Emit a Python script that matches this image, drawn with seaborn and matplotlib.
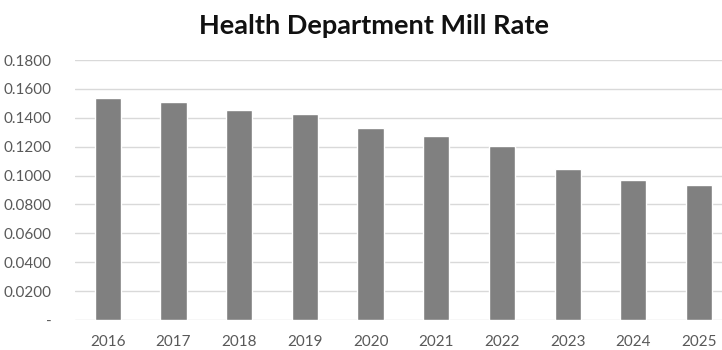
import numpy as np
import pandas as pd
import seaborn as sns
import matplotlib.pyplot as plt
from matplotlib.ticker import FuncFormatter

# values
years = ["2016", "2017", "2018", "2019", "2020", "2021", "2022", "2023", "2024", "2025"]
mill_rate = [0.1540, 0.1512, 0.1455, 0.1423, 0.1329, 0.1271, 0.1207, 0.1043, 0.0968, 0.0938]
y_ticks = [0.0, 0.02, 0.04, 0.06, 0.08, 0.10, 0.12, 0.14, 0.16, 0.18]

df = pd.DataFrame({"year": years, "rate": mill_rate})

sns.set_theme(style="white")
plt.rcParams['font.family'] = ['Lato', 'DejaVu Sans']

fig = plt.figure(figsize=(7.22, 3.5), dpi=100)
ax = fig.add_axes([75 / 722, 30 / 350, 647 / 722, 260 / 350])

sns.barplot(data=df, x="year", y="rate", color="#808080", saturation=1,
            width=0.4, ax=ax, zorder=3)

ax.set_ylim(0, 0.18)
ax.set_xlim(-0.5, 9.35)
ax.set_yticks(y_ticks)
ax.yaxis.set_major_formatter(FuncFormatter(lambda v, p: "-" if v == 0 else f"{v:.4f}"))
ax.grid(axis="y", color="#d9d9d9", linewidth=1, zorder=0)
ax.grid(axis="x", visible=False)
for s in ax.spines.values():
    s.set_visible(False)

ax.tick_params(axis="y", length=0, pad=17, labelsize=11, labelcolor="#595959")
ax.tick_params(axis="x", length=0, pad=11, labelsize=11, labelcolor="#595959")
ax.set_xlabel("")
ax.set_ylabel("")

fig.text(0.518, 0.925, "Health Department Mill Rate", ha="center", va="center",
         fontsize=19.5, fontweight="bold", color="#111111")

fig.savefig("out.png", dpi=100, facecolor="white")
